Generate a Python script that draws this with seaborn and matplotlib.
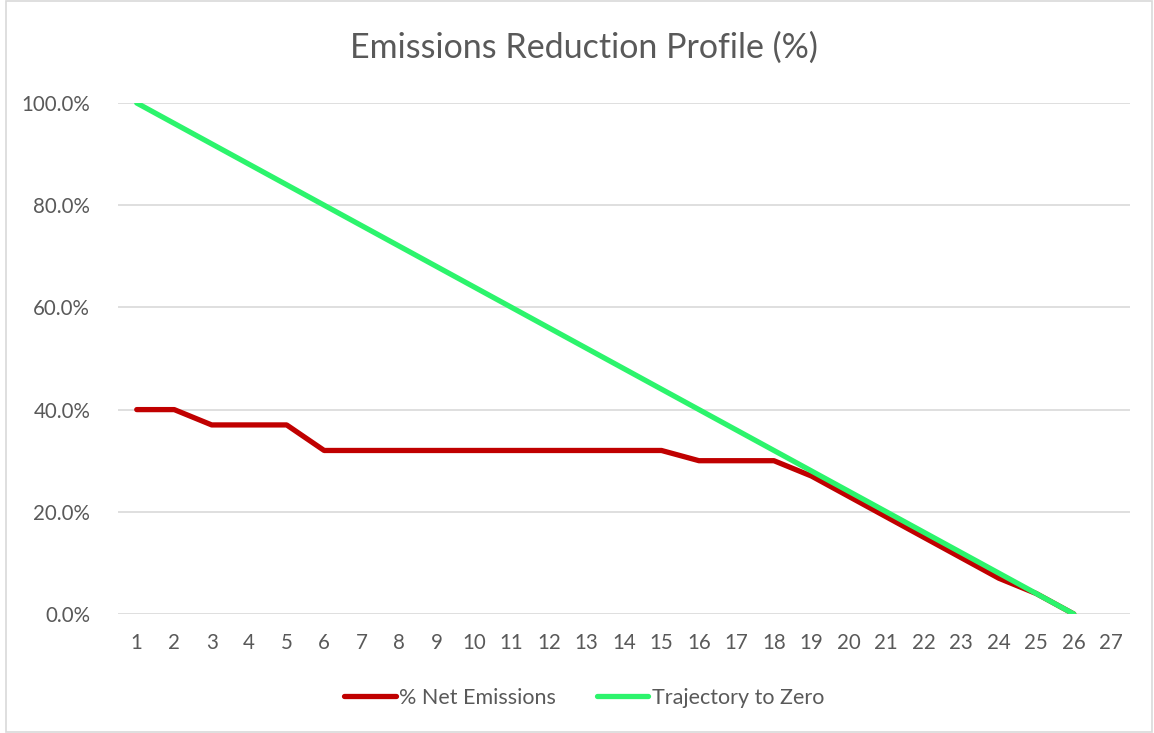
import seaborn as sns
import pandas as pd
import matplotlib.pyplot as plt
from matplotlib.patches import Rectangle
from matplotlib.ticker import FuncFormatter

# veriler
years = list(range(1, 27))
net_emissions = [40, 40, 37, 37, 37, 32, 32, 32, 32, 32, 32, 32, 32, 32, 32,
                 30, 30, 30, 27, 23, 19, 15, 11, 7, 4, 0]
trajectory = [100, 96, 92, 88, 84, 80, 76, 72, 68, 64, 60, 56, 52, 48, 44,
              40, 36, 32, 28, 24, 20, 16, 12, 8, 4, 0]
series_names = ["% Net Emissions", "Trajectory to Zero"]
x_ticks = list(range(1, 28))

df = pd.DataFrame({
    "year": years * 2,
    "value": net_emissions + trajectory,
    "series": [series_names[0]] * len(years) + [series_names[1]] * len(years),
})

sns.set_style("white")
plt.rcParams["font.family"] = ["Lato", "DejaVu Sans"]

fig = plt.figure(figsize=(11.54, 7.33), dpi=100)
ax = fig.add_axes([118 / 1154, 1 - 614 / 733, (1130 - 118) / 1154, (614 - 103) / 733])

# grafik çerçevesi
fig.patches.append(Rectangle((6 / 1154, 0.002), 1 - 8 / 1154, 0.996, transform=fig.transFigure,
                             fill=False, edgecolor="#d9d9d9", linewidth=1.2))

sns.lineplot(data=df, x="year", y="value", hue="series", ax=ax,
             palette=["#C00000", "#2CF46C"], linewidth=3.8, legend=True)
for ln in ax.lines:
    ln.set_solid_capstyle("round")
    ln.set_solid_joinstyle("round")

ax.set_xlim(0.5, 27.5)
ax.set_ylim(0, 100)
ax.set_xticks(x_ticks)
ax.set_yticks([0, 20, 40, 60, 80, 100])
ax.yaxis.set_major_formatter(FuncFormatter(lambda v, p: f"{v:.1f}%"))
ax.grid(axis="y", color="#d9d9d9", linewidth=1.2)
ax.set_axisbelow(True)
for s in ax.spines.values():
    s.set_visible(False)
ax.tick_params(axis="both", length=0, labelsize=14.8, labelcolor="#595959")
ax.tick_params(axis="y", pad=20)
ax.tick_params(axis="x", pad=14)
ax.set_xlabel("")
ax.set_ylabel("")
fig.text(0.506, 1 - 48 / 733, "Emissions Reduction Profile (%)", fontsize=24.5,
         color="#595959", ha="center", va="center")

ax.legend(loc="center", bbox_to_anchor=(584 / 1154, 1 - 698 / 733), bbox_transform=fig.transFigure,
          ncol=2, frameon=False, fontsize=15.5, labelcolor="#595959", handlelength=2.4,
          handletextpad=0.15, columnspacing=1.9)

fig.savefig("out.png", dpi=100)
